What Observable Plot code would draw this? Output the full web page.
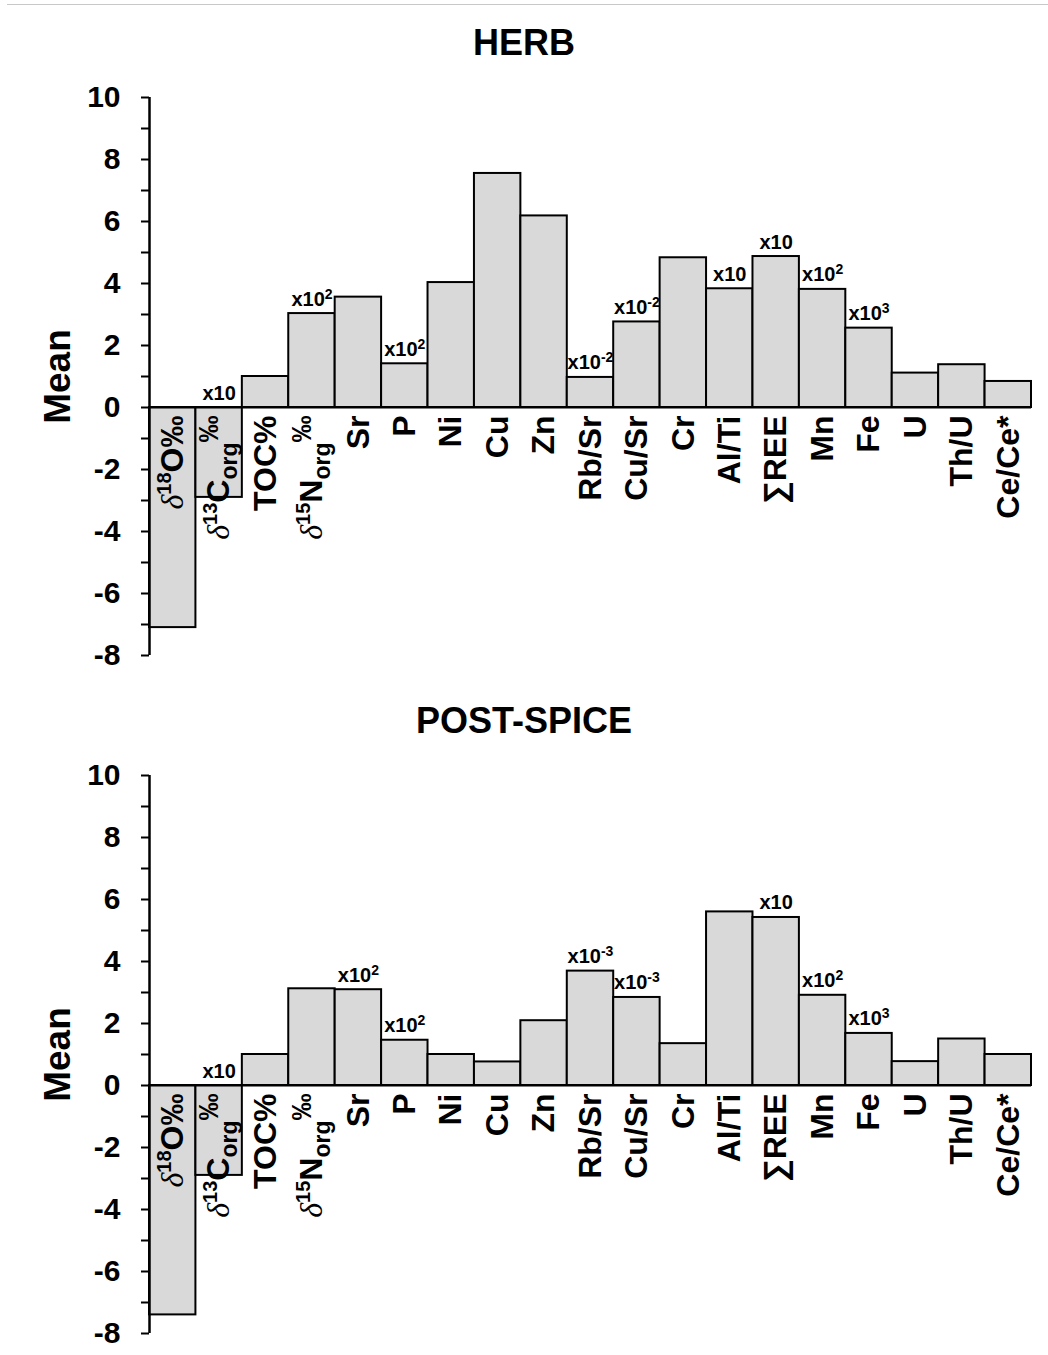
<!DOCTYPE html>
<html>
<head>
<meta charset="utf-8">
<script src="https://cdn.jsdelivr.net/npm/d3@7"></script>
<script src="https://cdn.jsdelivr.net/npm/@observablehq/plot@0.6"></script>
<style>
html, body { margin: 0; padding: 0; background: #fff; overflow: hidden; }
#page { position: relative; width: 1048px; height: 1355px; overflow: hidden; font-family: "Liberation Sans", Arial, sans-serif; }
.toprule { position: absolute; left: 7px; top: 4px; width: 1041px; height: 0; border-top: 1px solid #c8c8c8; }
.title { position: absolute; left: 0; width: 1048px; text-align: center; font-weight: bold; font-size: 36px; line-height: 36px; color: #000; }
.chart { position: absolute; left: 0; }
</style>
</head>
<body>
<div id="page">
  <div class="toprule"></div>
  <div class="title" style="top:25px">HERB</div>
  <div class="chart" id="c1" style="top:80px"></div>
  <div class="title" style="top:703px">POST-SPICE</div>
  <div class="chart" id="c2" style="top:758px"></div>
</div>
<script>
// ---- data ----
const categories = ["δ18O‰", "δ13Corg‰", "TOC%", "δ15Norg‰", "Sr", "P", "Ni", "Cu", "Zn",
  "Rb/Sr", "Cu/Sr", "Cr", "Al/Ti", "∑REE", "Mn", "Fe", "U", "Th/U", "Ce/Ce*"];

const herbValues = [-7.1, -2.9, 1.0, 3.03, 3.56, 1.41, 4.03, 7.55, 6.18,
  0.97, 2.76, 4.83, 3.83, 4.87, 3.81, 2.56, 1.11, 1.38, 0.84];
const herbMultipliers = ["", "x10", "", "x10^2", "", "x10^2", "", "", "",
  "x10^-2", "x10^-2", "", "x10", "x10", "x10^2", "x10^3", "", "", ""];

const postValues = [-7.4, -2.9, 1.0, 3.12, 3.09, 1.46, 1.0, 0.76, 2.09,
  3.69, 2.84, 1.35, 5.6, 5.42, 2.91, 1.68, 0.77, 1.5, 1.0];
const postMultipliers = ["", "x10", "", "", "x10^2", "x10^2", "", "", "",
  "x10^-3", "x10^-3", "", "", "x10", "x10^2", "x10^3", "", "", ""];

const yTicksMajor = [-8, -6, -4, -2, 0, 2, 4, 6, 8, 10];
const yTicksMinor = [-8, -7, -6, -5, -4, -3, -2, -1, 0, 1, 2, 3, 4, 5, 6, 7, 8, 9, 10];
const yLabel = "Mean";

// rich text pieces for isotope labels (sup/sub)
const labelParts = {
  "δ18O‰": [["δ", "greek"], ["18", "sup"], ["O‰", ""]],
  "δ13Corg‰": [["δ", "greek"], ["13", "sup"], ["C", ""], ["org", "sub"], ["‰", "supbig"]],
  "δ15Norg‰": [["δ", "greek"], ["15", "sup"], ["N", ""], ["org", "sub"], ["‰", "supbig"]]
};

function chart(values, mults, height, marginBottom) {
  const n = categories.length;
  const data = categories.map((c, i) => ({i, cat: c, value: values[i], mult: mults[i]}));
  return Plot.plot({
    width: 1048,
    height,
    marginTop: 17,
    marginBottom,
    marginLeft: 149,
    marginRight: 17,
    style: "font-family: 'Liberation Sans', Arial, sans-serif; font-weight: bold; color: black; background: white;",
    x: {domain: [0, n], axis: null},
    y: {domain: [-8, 10], axis: null},
    marks: [
      Plot.rectY(data, {x1: "i", x2: d => d.i + 1, y1: 0, y2: "value", fill: "#d9d9d9", stroke: "black", strokeWidth: 2}),
      Plot.ruleY([0], {x1: 0, x2: n, stroke: "black", strokeWidth: 2}),
      Plot.ruleX([0], {y1: -8, y2: 10, stroke: "black", strokeWidth: 2.5}),
      Plot.axisY({ticks: yTicksMinor, tickSize: 8, tickFormat: () => "", strokeWidth: 2, stroke: "black", label: null}),
      Plot.axisY({ticks: yTicksMajor, tickSize: 0, tickPadding: 29, tickFormat: d => String(d), fontSize: 30, fontWeight: "bold", fill: "black", label: null}),
      Plot.text([yLabel], {text: d => d, frameAnchor: "left", textAnchor: "middle", dx: -91, rotate: -90, fontSize: 37, fontWeight: "bold", fill: "black"}),
      Plot.text(data, {x: d => d.i + 0.5, y: 0, text: "cat", rotate: -90, textAnchor: "end", dy: 8, fontSize: 32, fontWeight: "bold", fill: "black"}),
      Plot.text(data.filter(d => d.mult), {x: d => d.i + 0.5, y: d => Math.max(0, d.value), text: "mult", dy: -8, lineAnchor: "bottom", fontSize: 20, fontWeight: "bold", fill: "black"})
    ]
  });
}

function enrich(svg) {
  d3.select(svg).selectAll("text").each(function() {
    const t = this.textContent;
    const sel = d3.select(this);
    if (labelParts[t]) {
      sel.text("");
      let cur = 0;
      for (const [s, type] of labelParts[t]) {
        const ts = sel.append("tspan").text(s);
        let target = 0;
        if (type === "sup") { target = -12; ts.attr("font-size", 20); }
        else if (type === "supbig") { target = -11; ts.attr("font-size", 27); }
        else if (type === "sub") { target = 8; ts.attr("font-size", 23); }
        else if (type === "greek") {
          ts.attr("font-family", "'Liberation Serif', 'DejaVu Serif', serif").attr("font-style", "italic").attr("font-weight", "normal");
        }
        if (target !== cur) { ts.attr("dy", target - cur); cur = target; }
      }
    } else if (/^x10(\^-?\d)?$/.test(t)) {
      const m = t.split("^");
      sel.text("");
      sel.append("tspan").text(m[0]);
      if (m[1]) {
        sel.append("tspan").text(m[1]).attr("font-size", 14).attr("dy", -7);
      }
    }
  });
}

const p1 = chart(herbValues, herbMultipliers, 600, 25);
const p2 = chart(postValues, postMultipliers, 597, 22);
enrich(p1);
enrich(p2);
document.getElementById("c1").appendChild(p1);
document.getElementById("c2").appendChild(p2);
</script>
</body>
</html>
